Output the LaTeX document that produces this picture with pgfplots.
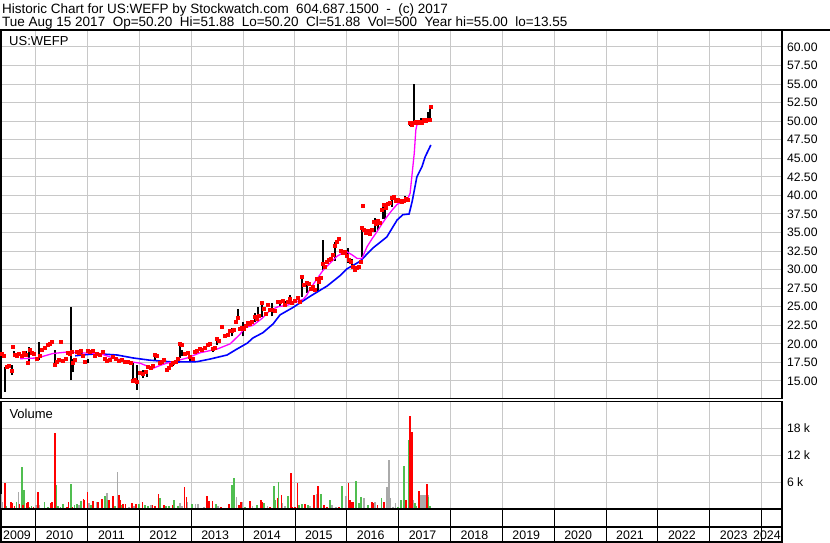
\documentclass[border=0pt]{standalone}
\usepackage{pgfplots}
\pgfplotsset{compat=1.18}
\usepackage{pgfplotstable}
\usepackage{fontspec}
\setmainfont{Liberation Sans}
\definecolor{gridgray}{RGB}{200,200,200}
\definecolor{volgreen}{RGB}{80,190,80}
\definecolor{volgray}{RGB}{170,170,170}
\definecolor{maline}{RGB}{255,0,255}
\definecolor{bluline}{RGB}{0,0,255}
\definecolor{pricered}{RGB}{255,0,0}
\newcommand{\tickfont}{\fontsize{12.2pt}{14pt}\selectfont}

% closing prices (decimal year, price)
\pgfplotstableread{
t p
2009.35 18.7
2009.39 18.3
2009.45 16.9
2009.49 17.0
2009.54 16.3
2009.56 19.6
2009.60 18.5
2009.64 18.3
2009.68 18.7
2009.74 18.4
2009.77 18.8
2009.81 18.5
2009.85 17.4
2009.89 19.2
2009.93 18.8
2009.97 18.6
2010.03 18.0
2010.08 18.3
2010.12 19.2
2010.18 19.4
2010.24 19.8
2010.28 20.0
2010.31 20.2
2010.37 17.2
2010.41 17.6
2010.45 17.8
2010.49 20.2
2010.53 17.7
2010.58 18.0
2010.62 18.8
2010.66 18.6
2010.70 18.9
2010.72 17.4
2010.76 17.8
2010.80 18.9
2010.84 18.8
2010.87 19.0
2010.91 18.4
2010.95 17.6
2011.01 19.0
2011.05 18.9
2011.11 19.0
2011.14 18.4
2011.18 18.6
2011.24 18.5
2011.30 18.9
2011.34 17.9
2011.38 17.7
2011.43 17.8
2011.49 18.2
2011.55 17.9
2011.61 17.7
2011.66 17.8
2011.72 17.6
2011.78 17.6
2011.84 17.4
2011.88 15.0
2011.92 15.1
2011.95 14.9
2012.01 16.1
2012.07 15.9
2012.13 16.2
2012.17 16.9
2012.22 16.8
2012.26 17.0
2012.30 18.5
2012.34 18.3
2012.40 17.4
2012.44 17.6
2012.47 17.8
2012.53 16.5
2012.57 16.8
2012.61 17.2
2012.65 17.4
2012.71 17.6
2012.74 18.0
2012.78 20.0
2012.82 19.9
2012.88 18.7
2012.94 18.8
2012.98 18.2
2013.03 18.0
2013.07 18.9
2013.11 19.0
2013.17 19.3
2013.21 19.2
2013.27 19.4
2013.32 19.9
2013.36 20.0
2013.42 19.3
2013.46 19.5
2013.50 20.6
2013.54 20.4
2013.59 22.3
2013.65 21.0
2013.71 21.2
2013.75 21.8
2013.79 21.7
2013.82 21.9
2013.86 22.9
2013.90 23.5
2013.94 22.0
2013.98 22.2
2014.02 22.0
2014.06 22.4
2014.09 22.8
2014.13 22.7
2014.17 22.9
2014.23 23.6
2014.27 23.4
2014.31 23.8
2014.36 25.5
2014.40 24.7
2014.44 24.0
2014.48 25.3
2014.52 24.6
2014.56 24.5
2014.61 24.4
2014.67 25.7
2014.71 25.6
2014.77 25.8
2014.81 25.2
2014.87 25.7
2014.90 26.0
2014.94 25.5
2015.00 25.8
2015.06 26.2
2015.10 25.6
2015.14 29.0
2015.17 27.9
2015.23 28.2
2015.27 28.0
2015.31 27.4
2015.35 27.6
2015.39 27.2
2015.42 28.7
2015.46 28.4
2015.50 28.9
2015.54 30.7
2015.58 30.4
2015.62 31.0
2015.66 31.3
2015.69 31.5
2015.73 32.0
2015.77 33.2
2015.81 33.7
2015.85 34.1
2015.89 32.5
2015.93 32.2
2015.96 32.4
2016.00 31.8
2016.04 31.3
2016.08 31.0
2016.12 30.4
2016.16 30.0
2016.20 30.2
2016.23 30.4
2016.27 31.0
2016.29 35.6
2016.31 38.6
2016.33 35.3
2016.37 35.0
2016.41 35.2
2016.45 34.8
2016.49 35.4
2016.52 36.4
2016.56 36.2
2016.60 36.6
2016.64 36.3
2016.68 38.0
2016.72 38.7
2016.76 38.3
2016.79 38.9
2016.83 39.0
2016.87 39.6
2016.91 39.8
2016.95 39.2
2016.99 39.4
2017.03 39.3
2017.06 39.1
2017.10 39.3
2017.14 39.5
2017.18 39.4
2017.22 49.7
2017.26 49.5
2017.30 49.8
2017.33 49.9
2017.37 49.8
2017.41 49.9
2017.45 49.7
2017.49 50.1
2017.53 50.0
2017.57 50.2
2017.60 50.2
2017.62 51.88
}\closes

% high-low ranges
\pgfplotstableread{
t lo hi
2009.41 13.55 16.9
2009.54 15.8 17.15
2009.58 18.4 19.0
2009.81 18.3 19.0
2009.87 17.35 19.6
2010.06 17.8 20.3
2010.37 16.9 19.2
2010.68 15.1 25.0
2010.72 16.2 18.0
2010.89 18.5 19.1
2011.01 17.4 18.0
2011.28 18.5 19.0
2011.88 15.1 17.4
2011.95 13.8 17.2
2012.07 15.4 16.5
2012.15 15.6 16.4
2012.30 17.8 18.7
2012.65 17.0 17.6
2012.78 18.1 19.9
2012.82 18.3 19.2
2012.98 17.6 18.5
2013.42 18.9 19.6
2013.50 19.85 20.9
2013.79 21.0 22.1
2013.90 23.7 24.7
2014.00 21.0 23.0
2014.23 23.0 24.1
2014.29 23.0 25.0
2014.36 23.6 25.5
2014.56 23.7 25.5
2014.71 25.0 25.7
2014.81 25.0 25.8
2014.90 25.5 26.6
2015.14 26.3 29.0
2015.23 26.8 28.2
2015.44 27.0 28.7
2015.54 29.9 34.0
2015.64 30.9 31.6
2015.71 31.3 32.3
2015.77 31.2 33.7
2016.02 30.9 32.9
2016.10 30.4 31.5
2016.29 31.75 35.8
2016.54 35.1 36.9
2016.60 35.4 36.7
2016.70 36.8 38.4
2016.74 36.8 38.8
2016.87 38.5 39.8
2017.12 39.0 39.9
2017.22 49.3 49.9
2017.30 49.8 55.0
2017.43 49.6 50.4
2017.57 49.9 51.3
2017.60 50.1 51.88
}\hilo

% short moving average (magenta)
\pgfplotstableread{
t p
2009.70 18.0
2010.03 18.1
2010.33 18.7
2010.60 18.9
2010.85 18.8
2011.24 18.7
2011.49 18.1
2011.82 17.6
2012.01 17.4
2012.26 16.7
2012.40 17.1
2012.53 17.4
2012.65 17.6
2012.92 18.1
2013.17 18.8
2013.50 19.3
2013.75 20.0
2013.94 21.3
2014.04 22.2
2014.19 22.5
2014.36 23.4
2014.52 24.5
2014.67 25.0
2014.85 25.2
2015.04 25.7
2015.16 26.0
2015.23 26.6
2015.29 27.4
2015.42 28.7
2015.54 29.9
2015.68 30.9
2015.81 31.8
2015.93 32.3
2016.00 32.4
2016.10 32.0
2016.20 31.5
2016.29 31.5
2016.39 33.1
2016.49 34.2
2016.58 35.1
2016.68 36.2
2016.77 37.1
2016.87 38.0
2016.97 38.8
2017.06 39.1
2017.16 39.3
2017.22 40.3
2017.26 43.0
2017.30 45.7
2017.33 48.8
2017.35 49.5
2017.45 49.8
2017.55 49.95
2017.62 50.2
}\mashort

% long moving average (blue)
\pgfplotstableread{
t p
2010.76 18.4
2011.05 18.6
2011.24 18.65
2011.57 18.5
2011.88 18.1
2012.20 17.8
2012.65 17.55
2013.11 17.6
2013.36 17.95
2013.69 18.5
2013.88 19.3
2014.08 20.1
2014.19 20.8
2014.38 21.5
2014.58 22.7
2014.71 23.9
2014.96 24.9
2015.29 26.4
2015.62 27.8
2015.87 29.2
2016.00 30.1
2016.25 31.1
2016.50 32.9
2016.77 34.4
2016.97 36.7
2017.08 37.4
2017.20 37.5
2017.26 39.2
2017.35 42.5
2017.45 43.9
2017.51 45.2
2017.62 46.8
}\malong

% volume, days that closed down (red)
\pgfplotstableread{
t v
2009.41 5870
2009.52 1630
2009.55 1410
2009.59 670
2009.69 1190
2009.76 900
2009.82 1410
2009.85 1630
2009.96 450
2010.04 3860
2010.29 1410
2010.32 1630
2010.37 17020
2010.60 450
2010.63 1630
2010.71 450
2010.92 2160
2010.94 2000
2011.00 3860
2011.10 1860
2011.20 1560
2011.28 2160
2011.42 2000
2011.49 2900
2011.60 3120
2011.62 2000
2011.68 1190
2011.73 1190
2011.86 1410
2011.93 1190
2012.06 1560
2012.25 890
2012.30 670
2012.37 3345
2012.47 890
2012.64 890
2012.87 4980
2012.91 2750
2013.31 2900
2013.34 1860
2013.41 1860
2013.57 450
2013.73 1190
2013.92 890
2013.96 1630
2014.13 1860
2014.34 2010
2014.37 1630
2014.52 450
2014.66 2380
2014.74 3120
2014.92 7960
2014.94 450
2015.00 450
2015.05 5870
2015.19 1190
2015.37 3120
2015.44 5130
2015.56 890
2015.62 450
2015.85 450
2016.03 5870
2016.06 2010
2016.09 1630
2016.12 1630
2016.48 1630
2016.51 1410
2016.59 890
2016.72 1630
2017.14 2010
2017.22 20740
2017.25 17170
2017.39 4010
2017.54 5580
}\volred

% volume, days that closed up (green)
\pgfplotstableread{
t v
2009.43 670
2009.63 1630
2009.74 9440
2009.78 4240
2009.88 450
2009.92 670
2010.05 1780
2010.17 1630
2010.24 450
2010.40 5350
2010.43 670
2010.48 450
2010.53 1190
2010.68 5580
2010.75 890
2010.79 1190
2010.88 1860
2011.07 890
2011.33 2900
2011.39 2010
2011.53 670
2011.65 890
2011.99 1190
2012.11 890
2012.16 670
2012.40 2530
2012.51 670
2012.57 670
2012.67 2010
2012.74 670
2013.01 1190
2013.48 1190
2013.79 5350
2013.82 6980
2014.03 450
2014.27 890
2014.40 1410
2014.59 5130
2014.61 2010
2014.68 6090
2014.86 2900
2015.08 890
2015.13 1190
2015.25 890
2015.50 3345
2015.67 2010
2015.90 5130
2016.18 6250
2016.24 1410
2016.27 2600
2016.41 890
2016.67 2380
2016.99 450
2017.04 2010
2017.10 9590
2017.19 15390
2017.31 1410
2017.33 670
2017.57 2750
2017.60 670
}\volgreen

% volume, unchanged days (grey)
\pgfplotstableread{
t v
2009.33 3345
2009.36 1630
2009.67 3860
2010.01 890
2010.07 890
2010.84 890
2011.03 1410
2011.17 1560
2011.37 3640
2011.58 8320
2011.80 450
2011.90 670
2012.22 890
2012.78 1410
2012.82 670
2012.93 1560
2013.08 1190
2013.13 1190
2013.25 450
2013.52 670
2013.87 2750
2013.98 1560
2014.18 670
2014.47 670
2014.76 1410
2014.81 670
2015.29 670
2015.42 3345
2015.71 890
2015.79 450
2015.98 2900
2016.33 2380
2016.54 1560
2016.77 4980
2016.81 10930
2016.83 2380
2016.89 450
2016.94 1410
2017.28 2010
2017.41 3120
2017.44 3120
2017.47 3120
2017.50 3120
2017.53 3120
2017.56 3120
}\volgray

\pgfplotsset{
  panel/.style={
    scale only axis, width=781pt, anchor=south west,
    xmin=2009.331, xmax=2024.391,
    xtick={2010,...,2024}, xticklabels={},
    major tick length=0pt, minor tick num=0,
    axis line style={black, line width=1.5pt},
    grid style={gridgray, line width=1pt},
    xmajorgrids, ymajorgrids,
    yticklabel pos=right,
    yticklabel style={anchor=west, xshift=1.5pt, font=\tickfont},
    scaled y ticks=false,
  }
}

\begin{document}
\begin{tikzpicture}
\useasboundingbox (0pt,0pt) rectangle (830pt,543pt);

% header
\node[anchor=base west, inner sep=0pt, font=\fontsize{13.5pt}{15pt}\selectfont] at (2pt,529.5pt)
  {Historic Chart for US:WEFP by Stockwatch.com~ 604.687.1500~ -~ (c) 2017};
\node[anchor=base west, inner sep=0pt, font=\fontsize{13.5pt}{15pt}\selectfont] at (2pt,516.3pt)
  {Tue Aug 15 2017~ Op=50.20~ Hi=51.88~ Lo=50.20~ Cl=51.88~ Vol=500~ Year hi=55.00~ lo=13.55};

% price panel
\begin{axis}[panel, at={(1pt,144.5pt)}, height=368.5pt,
  ymin=12.64, ymax=62.29,
  ytick={15,17.5,20,22.5,25,27.5,30,32.5,35,37.5,40,42.5,45,47.5,50,52.5,55,57.5,60},
  yticklabel={\pgfmathprintnumber[fixed,fixed zerofill,precision=2,assume math mode=true]{\tick}}]
  \addplot[draw=none, mark=none, forget plot,
    error bars/.cd, y dir=plus, y explicit, error mark=none,
    error bar style={draw=black, solid, line width=1.6pt}]
    table[x=t, y=lo, y error expr=\thisrow{hi}-\thisrow{lo}] {\hilo};
  \addplot[pricered, only marks, mark=square*, mark size=1.5pt,
    mark options={solid, draw=pricered, fill=pricered, line width=0pt}] table[x=t,y=p] {\closes};
  \addplot[bluline, line width=1.6pt] table[x=t,y=p] {\malong};
  \addplot[maline, line width=1.3pt] table[x=t,y=p] {\mashort};
\end{axis}
\node[anchor=base west, inner sep=0pt, font=\fontsize{13pt}{15pt}\selectfont] at (9pt,497.3pt) {US:WEFP};

% volume panel
\begin{axis}[panel, at={(1pt,34pt)}, height=107.5pt,
  ymin=0, ymax=23980,
  ytick={6000,12000,18000}, yticklabels={6 k,12 k,18 k}]
  \addplot[ycomb, volgray, line width=1.7pt, mark=none] table[x=t,y=v] {\volgray};
  \addplot[ycomb, volgreen, line width=1.7pt, mark=none] table[x=t,y=v] {\volgreen};
  \addplot[ycomb, red, line width=1.7pt, mark=none] table[x=t,y=v] {\volred};
\end{axis}
\node[anchor=base west, inner sep=0pt, font=\fontsize{13pt}{15pt}\selectfont] at (9.3pt,124.7pt) {Volume};

% date strip
\begin{axis}[panel, at={(1pt,1pt)}, height=33pt,
  ymin=0, ymax=33, ytick={15}, yticklabels={},
  x grid style={black, line width=0.9pt},
  y grid style={black, line width=1.6pt}]
  \node[font=\fontsize{12.4pt}{14pt}\selectfont] at (axis cs:2009.64,7) {2009};
  \pgfplotsinvokeforeach{2010,...,2023}{
    \node[font=\fontsize{12.4pt}{14pt}\selectfont] at (axis cs:#1.46,7) {#1};
  }
  \node[font=\fontsize{12.4pt}{14pt}\selectfont] at (axis cs:2024.10,7) {2024};
\end{axis}

\draw[black, line width=1.5pt] (0pt,513pt) -- (830pt,513pt);
\end{tikzpicture}
\end{document}
